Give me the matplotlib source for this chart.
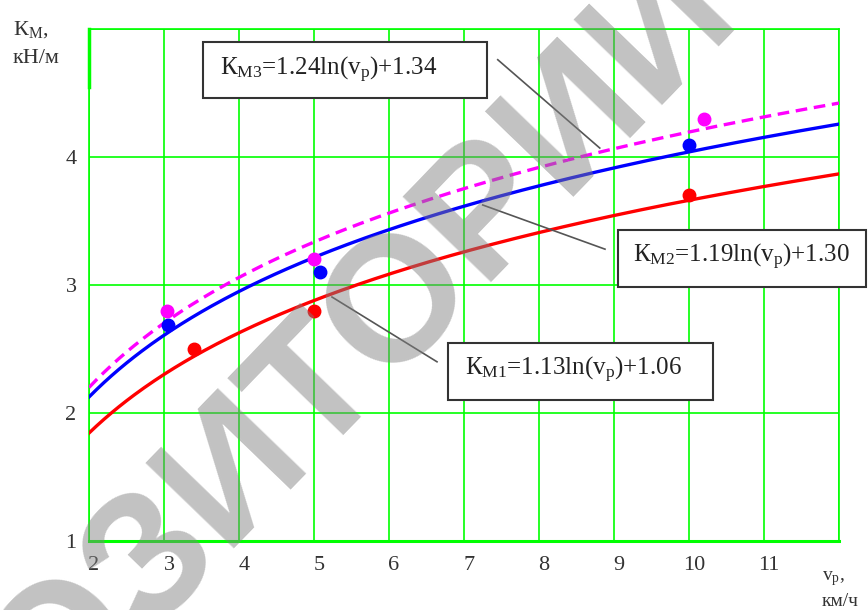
import numpy as np
import matplotlib.pyplot as plt
from matplotlib.patches import Rectangle
from matplotlib.transforms import ScaledTranslation

plt.rcParams['font.family'] = ['Liberation Serif', 'DejaVu Serif']
plt.rcParams['mathtext.fontset'] = 'custom'
plt.rcParams['mathtext.rm'] = 'Liberation Serif'
plt.rcParams['mathtext.it'] = 'Liberation Serif:italic'

# trend lines K = a*ln(v) + b (coefficients as printed on the chart)
coef_a = [1.13, 1.19, 1.24]
coef_b = [1.06, 1.30, 1.34]
labels = ['К$_{\\mathrm{М1}}$=1.13ln(v$_{\\mathrm{р}}$)+1.06',
          'К$_{\\mathrm{М2}}$=1.19ln(v$_{\\mathrm{р}}$)+1.30',
          'К$_{\\mathrm{М3}}$=1.24ln(v$_{\\mathrm{р}}$)+1.34']

# measured points
v1 = [3.4, 5.0, 10.0]
k1 = [2.50, 2.80, 3.70]
v2 = [3.05, 5.08, 10.0]
k2 = [2.69, 3.10, 4.09]
v3 = [3.04, 5.0, 10.2]
k3 = [2.80, 3.20, 4.30]

x_ticks = [2, 3, 4, 5, 6, 7, 8, 9, 10, 11]
y_ticks = [1, 2, 3, 4]

colors = ['#ff0000', '#0000ff', '#ff00ff']

fig = plt.figure(figsize=(8.68, 6.1), dpi=100)
ax = fig.add_axes([89 / 868, 1 - 541 / 610, 750 / 868, 512 / 610])
ax.set_xlim(2, 12)
ax.set_ylim(1, 5)

# green grid
for x in range(2, 13):
    ax.axvline(x, color='#00ff00', lw=1.2, zorder=1)
for y in range(1, 6):
    ax.axhline(y, color='#00ff00', lw=1.2, zorder=1)
for s in ax.spines.values():
    s.set_color('#00ff00')
    s.set_linewidth(1.2)
ax.spines['bottom'].set_linewidth(2.2)
ax.plot([2, 2], [4.55, 5], color='#00ff00', lw=2.5, zorder=2, clip_on=False)

vv = np.linspace(2, 12, 300)
styles = ['-', '-', (0, (3.5, 2))]
for a, b, c, ls in zip(coef_a, coef_b, colors, styles):
    ax.plot(vv, a * np.log(vv) + b, color=c, lw=2.4, ls=ls, zorder=3)

for v, k, c in zip([v1, v2, v3], [k1, k2, k3], colors):
    ax.plot(v, k, 'o', color=c, ms=9, zorder=4)

ax.set_xticks(x_ticks)
ax.set_xticklabels([str(t) for t in x_ticks])
ax.set_yticks(y_ticks)
ax.set_yticklabels([str(t) for t in y_ticks])
ax.tick_params(length=0, labelsize=16, labelcolor='#333333')
ax.tick_params(axis='x', pad=11)
ax.tick_params(axis='y', pad=9)
for lbl in ax.get_xticklabels():
    lbl.set_transform(lbl.get_transform() + ScaledTranslation(0.05, 0, fig.dpi_scale_trans))

# leader lines
leaders = [((5.24, 2.906), (6.64, 2.40)),
           ((7.25, 3.625), (8.88, 3.28)),
           ((7.45, 4.76), (8.81, 4.07))]
for (xa, ya), (xb, yb) in leaders:
    ax.plot([xa, xb], [ya, yb], color='#555555', lw=1.2, zorder=5, clip_on=False)

# equation boxes (pixel layout)
W, H = 868, 610
boxes = [(448, 343, 713, 400, 465, 375),
         (618, 230, 866, 287, 633, 262),
         (203, 42, 487, 98, 220, 75)]
for (x0, y0, x1, y1, tx, ty), lab in zip(boxes, labels):
    fig.patches.append(Rectangle((x0 / W, 1 - y1 / H), (x1 - x0) / W, (y1 - y0) / H,
                                 transform=fig.transFigure, facecolor='white',
                                 edgecolor='#333333', lw=1.5, zorder=5))
    fig.text(tx / W, 1 - ty / H, lab, fontsize=18, color='#222222',
             va='baseline', ha='left', zorder=6)

# axis titles
fig.text(13 / W, 1 - 35 / H, 'К$_{\\mathrm{М}}$,', fontsize=16, color='#333333', va='baseline')
fig.text(13 / W, 1 - 63 / H, 'кН/м', fontsize=16, color='#333333', va='baseline')
fig.text(822 / W, 1 - 580 / H, 'v$_{\\mathrm{р}}$,', fontsize=14, color='#333333', va='baseline')
fig.text(822 / W, 1 - 606 / H, 'км/ч', fontsize=14, color='#333333', va='baseline')

# watermark
fig.text(373 / W, 1 - 338 / H, 'РЕПОЗИТОРИЙ БГУ', fontsize=128, family='Liberation Sans',
         fontweight='bold', color='#808080', alpha=0.48, rotation=46,
         rotation_mode='anchor', ha='center', va='center', zorder=10)

fig.savefig('out.png', dpi=100)
